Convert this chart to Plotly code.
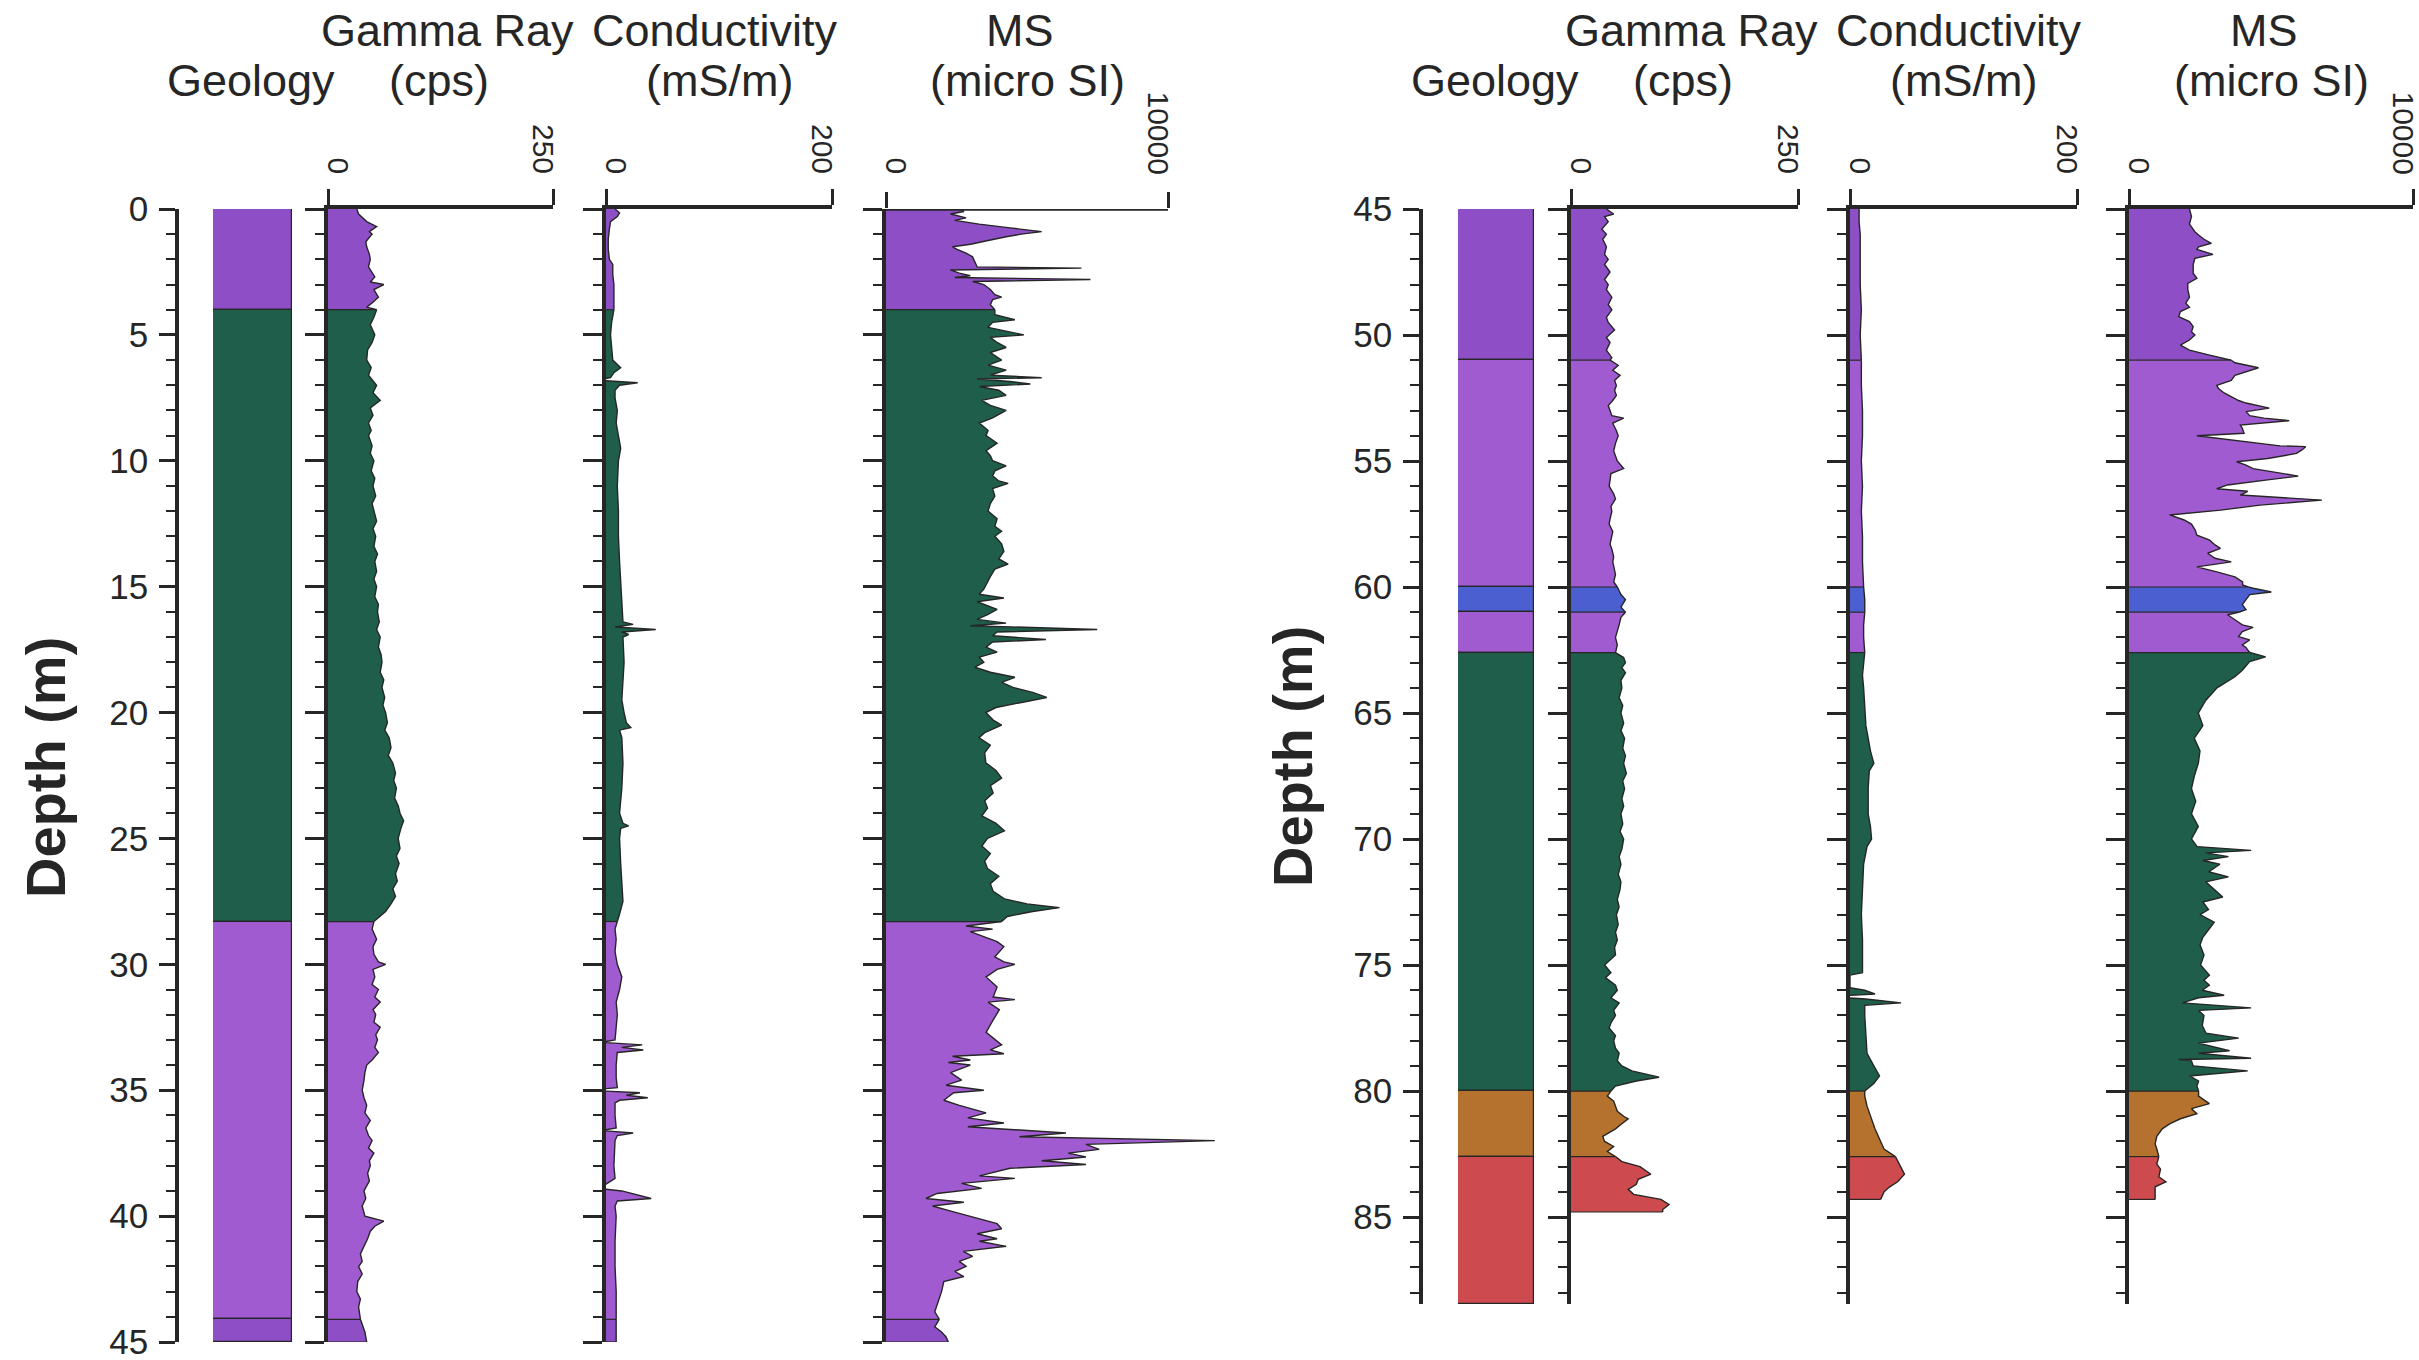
import plotly.graph_objects as go

# ---------------------------------------------------------------------------
# Geology units (top depth, base depth, unit colour key), metres
# ---------------------------------------------------------------------------
geo_left_top = [0.0, 4.0, 28.3, 44.1]
geo_left_base = [4.0, 28.3, 44.1, 45.0]
geo_left_unit = ["violet", "green", "lilac", "violet"]

geo_right_top = [45.0, 51.0, 60.0, 61.0, 62.6, 80.0, 82.6]
geo_right_base = [51.0, 60.0, 61.0, 62.6, 80.0, 82.6, 88.45]
geo_right_unit = ["violet", "lilac", "blue", "lilac", "green", "brown", "red"]

# Full-scale ends of each log track
gr_scale = [0, 250]
cond_scale = [0, 200]
ms_scale = [0, 10000]

# ---------------------------------------------------------------------------
# Upper hole, 0 - 45 m
# ---------------------------------------------------------------------------
gr_left_depth = [
    0.0, 0.2, 0.5, 0.7, 0.9, 1.0, 1.3, 1.5, 1.8, 2.0,
    2.3, 2.5, 2.7, 2.9, 3.0, 3.2, 3.5, 3.7, 3.9, 4.0,
    4.3, 4.6, 5.0, 5.3, 5.6, 6.0, 6.3, 6.6, 7.0, 7.3,
    7.6, 7.9, 8.2, 8.5, 8.8, 9.0, 9.4, 9.7, 10.0, 10.4,
    10.7, 11.0, 11.4, 11.7, 12.0, 12.4, 12.7, 13.0, 13.4, 13.7,
    14.0, 14.4, 14.7, 15.0, 15.4, 15.7, 16.0, 16.4, 16.7, 17.0,
    17.4, 17.7, 18.0, 18.4, 18.7, 19.0, 19.4, 19.7, 20.0, 20.4,
    20.7, 21.0, 21.4, 21.7, 22.0, 22.4, 22.7, 23.0, 23.4, 23.7,
    24.0, 24.3, 24.6, 25.0, 25.4, 25.7, 26.0, 26.4, 26.7, 27.0,
    27.3, 27.6, 27.9, 28.1, 28.3, 28.6, 29.0, 29.3, 29.6, 29.9,
    30.0, 30.2, 30.5, 30.8, 31.0, 31.3, 31.5, 31.8, 32.0, 32.3,
    32.5, 32.8, 33.0, 33.3, 33.5, 33.8, 34.0, 34.3, 34.6, 35.0,
    35.3, 35.6, 35.9, 36.2, 36.5, 36.8, 37.0, 37.3, 37.5, 37.8,
    38.0, 38.3, 38.6, 39.0, 39.3, 39.6, 40.0, 40.2, 40.4, 40.6,
    40.9, 41.2, 41.5, 41.8, 42.0, 42.3, 42.6, 43.0, 43.3, 43.6,
    44.1, 44.3, 44.6, 45.0]
gr_left_cps = [
    32, 34, 43, 54, 46, 49, 42, 43, 46, 47,
    45, 49, 52, 47, 62, 51, 56, 50, 43, 54,
    51, 47, 52, 49, 44, 43, 48, 45, 54, 50,
    58, 47, 50, 45, 48, 45, 49, 47, 51, 48,
    52, 50, 53, 49, 51, 54, 50, 53, 51, 55,
    52, 54, 51, 54, 52, 56, 55, 57, 54, 58,
    56, 59, 60, 58, 62, 60, 63, 61, 64, 66,
    63, 68, 70, 67, 72, 75, 73, 76, 74, 78,
    80, 84, 81, 78, 80, 76, 79, 75, 77, 72,
    75, 70, 64, 58, 51, 49, 54, 50, 51, 56,
    64, 50, 52, 49, 56, 52, 58, 50, 53, 51,
    58, 53, 55, 52, 56, 49, 43, 41, 40, 38,
    40, 43, 41, 47, 42, 45, 49, 45, 51, 46,
    47, 44, 46, 40, 42, 38, 41, 62, 52, 47,
    44, 40, 36, 38, 34, 38, 33, 32, 36, 34,
    36, 38, 41, 43]

cond_left_depth = [
    0.0, 0.15, 0.3, 0.5, 0.8, 1.2, 1.6, 2.0, 2.2, 2.6,
    3.0, 3.5, 4.0, 4.5, 5.0, 5.5, 6.0, 6.3, 6.5, 6.7,
    6.8, 6.9, 7.0, 7.2, 7.5, 8.0, 8.5, 9.0, 9.5, 10.0,
    11.0, 12.0, 13.0, 14.0, 15.0, 16.0, 16.4, 16.5, 16.6, 16.7,
    16.8, 16.9, 17.0, 18.0, 19.0, 19.5, 20.0, 20.4, 20.6, 20.7,
    21.0, 22.0, 23.0, 24.0, 24.4, 24.5, 24.6, 25.0, 26.0, 27.0,
    27.5, 28.0, 28.3, 28.6, 29.0, 29.5, 30.0, 30.5, 31.0, 31.5,
    32.0, 32.5, 33.0, 33.1, 33.2, 33.3, 33.4, 33.5, 34.0, 34.5,
    34.9, 35.0, 35.1, 35.2, 35.3, 35.4, 35.5, 36.0, 36.5, 36.6,
    36.7, 36.8, 37.0, 38.0, 38.5, 38.9, 39.0, 39.3, 39.4, 39.6,
    40.0, 41.0, 42.0, 43.0, 44.1, 45.0]
cond_left_mspm = [
    8, 12, 10, 4, 3, 2, 2, 3, 6, 6,
    7, 7, 7, 5, 4, 5, 6, 13, 7, 4,
    -8, 28, 12, 8, 8, 10, 9, 11, 13, 11,
    10, 11, 11, 12, 13, 14, 15, 24, 8, 44,
    14, 20, 15, 16, 15, 14, 16, 18, 22, 12,
    14, 15, 14, 12, 15, 20, 13, 12, 13, 14,
    15, 12, 10, 8, 9, 8, 10, 14, 12, 9,
    10, 9, 8, -4, 32, 14, 33, 10, 9, 9,
    10, -16, 30, 18, 37, 12, 8, 8, 9, -4,
    24, 10, 8, 7, 8, -6, 14, 40, 10, 8,
    9, 8, 8, 9, 9, 9]

ms_left_depth = [
    0.0, 0.1, 0.2, 0.35, 0.45, 0.6, 0.75, 0.9, 1.0, 1.1,
    1.25, 1.4, 1.5, 1.6, 1.75, 1.9, 2.1, 2.3, 2.35, 2.42,
    2.55, 2.65, 2.72, 2.8, 2.88, 3.0, 3.2, 3.4, 3.5, 3.6,
    3.8, 4.0, 4.2, 4.4, 4.5, 4.7, 5.0, 5.1, 5.3, 5.5,
    5.7, 6.0, 6.2, 6.4, 6.6, 6.7, 6.75, 6.85, 6.95, 7.05,
    7.2, 7.4, 7.6, 7.8, 8.0, 8.3, 8.5, 8.8, 9.0, 9.3,
    9.6, 9.8, 10.0, 10.2, 10.4, 10.6, 10.8, 10.9, 11.1, 11.4,
    11.7, 12.0, 12.3, 12.6, 12.8, 13.0, 13.3, 13.6, 13.9, 14.1,
    14.3, 14.6, 14.9, 15.1, 15.3, 15.45, 15.6, 15.9, 16.1, 16.3,
    16.45, 16.55, 16.7, 16.8, 16.95, 17.1, 17.2, 17.4, 17.6, 17.8,
    18.0, 18.2, 18.4, 18.6, 18.8, 19.0, 19.2, 19.4, 19.6, 19.8,
    20.0, 20.3, 20.5, 20.8, 21.0, 21.3, 21.6, 22.0, 22.3, 22.6,
    22.9, 23.2, 23.5, 23.8, 24.1, 24.4, 24.7, 25.0, 25.3, 25.6,
    25.9, 26.2, 26.5, 26.8, 27.1, 27.4, 27.6, 27.75, 27.9, 28.1,
    28.3, 28.48, 28.6, 28.7, 29.1, 29.3, 29.7, 29.9, 30.0, 30.2,
    30.5, 30.9, 31.3, 31.4, 31.5, 31.8, 32.25, 32.7, 33.2, 33.4,
    33.55, 33.65, 33.8, 33.9, 34.0, 34.3, 34.6, 34.8, 35.0, 35.1,
    35.4, 35.6, 35.9, 36.1, 36.3, 36.45, 36.7, 36.85, 37.0, 37.15,
    37.35, 37.5, 37.65, 37.8, 37.95, 38.1, 38.4, 38.5, 38.7, 38.9,
    39.1, 39.3, 39.45, 39.6, 39.8, 40.0, 40.3, 40.5, 40.7, 40.9,
    41.0, 41.2, 41.4, 41.6, 41.8, 42.0, 42.2, 42.4, 42.6, 43.0,
    43.3, 43.6, 43.8, 44.1, 44.4, 44.6, 44.8, 45.0]
ms_left_si = [
    2680, 2760, 2290, 2840, 2440, 3300, 4400, 5520, 4800, 4260,
    3620, 3000, 2360, 2520, 2840, 3070, 3150, 3230, 6930, 2280,
    2600, 2990, 2440, 7250, 3070, 3470, 3700, 3860, 4100, 3780,
    3700, 3860, 3860, 4570, 3780, 3620, 4890, 3700, 3940, 4260,
    3700, 4100, 3620, 4260, 3700, 5520, 3230, 4400, 5120, 3310,
    4000, 4260, 3390, 3700, 4260, 3780, 3310, 3620, 3550, 3940,
    3550, 3700, 3780, 4260, 3860, 3780, 4000, 4330, 3780, 3860,
    3700, 3620, 3940, 3860, 4100, 3860, 4100, 4180, 4000, 4330,
    3860, 3700, 3550, 3470, 3300, 4180, 3230, 3940, 3620, 3230,
    4260, 2990, 7490, 3940, 3780, 5670, 3780, 3550, 3940, 3310,
    3470, 3150, 3700, 4570, 4100, 4500, 5200, 5700, 4800, 3900,
    3540, 3800, 4100, 3500, 3300, 3700, 3500, 3540, 3900, 4100,
    3700, 3800, 3500, 3600, 3400, 3900, 4200, 3600, 3400, 3700,
    3500, 3600, 4000, 3700, 3800, 4200, 5000, 6150, 5200, 4300,
    4100, 2840, 3780, 2990, 3940, 4180, 3860, 4180, 4570, 3940,
    3550, 3940, 3800, 4570, 3620, 4020, 3780, 3550, 4100, 3700,
    4180, 2360, 2990, 2210, 2990, 2290, 2680, 2130, 3470, 2400,
    2050, 2600, 3550, 2900, 4180, 2900, 6380, 4730, 11660, 7090,
    7560, 6460, 7090, 5520, 7090, 4400, 3310, 4570, 2680, 3390,
    1810, 1420, 2760, 1650, 2300, 2990, 3940, 4100, 3230, 3940,
    3310, 4260, 2740, 3070, 2600, 2840, 2440, 2760, 2050, 1970,
    1890, 1810, 1730, 1890, 1730, 1970, 2130, 2210]

# ---------------------------------------------------------------------------
# Lower hole, 45 - 88 m
# ---------------------------------------------------------------------------
gr_right_depth = [
    45.0, 45.2, 45.3, 45.5, 45.8, 46.0, 46.2, 46.5, 46.8, 47.0,
    47.2, 47.5, 47.8, 48.0, 48.2, 48.5, 48.8, 49.0, 49.3, 49.5,
    49.8, 50.1, 50.3, 50.6, 50.9, 51.0, 51.2, 51.4, 51.6, 51.8,
    52.0, 52.2, 52.4, 52.6, 52.8, 53.0, 53.2, 53.3, 53.5, 53.8,
    54.0, 54.3, 54.6, 55.0, 55.3, 55.5, 56.0, 56.3, 56.5, 56.8,
    57.0, 57.3, 57.5, 57.8, 58.0, 58.3, 58.5, 58.8, 59.0, 59.3,
    59.5, 59.8, 60.0, 60.3, 60.5, 60.8, 61.0, 61.2, 61.5, 61.8,
    62.0, 62.3, 62.6, 62.8, 63.0, 63.2, 63.4, 63.7, 64.0, 64.4,
    64.7, 65.0, 65.4, 65.7, 66.0, 66.4, 66.7, 67.0, 67.4, 67.7,
    68.0, 68.4, 68.7, 69.0, 69.4, 69.7, 70.0, 70.4, 70.7, 71.0,
    71.4, 71.7, 72.0, 72.4, 72.7, 73.0, 73.4, 73.7, 74.0, 74.3,
    74.6, 75.0, 75.3, 75.5, 75.8, 76.0, 76.3, 76.5, 76.8, 77.0,
    77.3, 77.5, 77.8, 78.0, 78.3, 78.5, 78.8, 79.0, 79.2, 79.45,
    79.6, 79.8, 80.0, 80.2, 80.4, 80.6, 80.8, 81.0, 81.1, 81.3,
    81.5, 81.8, 82.0, 82.2, 82.4, 82.6, 82.8, 83.0, 83.2, 83.3,
    83.5, 83.7, 83.9, 84.1, 84.3, 84.5, 84.7, 84.8]
gr_right_cps = [
    39, 47, 37, 41, 34, 39, 35, 39, 37, 41,
    37, 43, 37, 41, 39, 45, 41, 45, 39, 41,
    48, 39, 43, 39, 45, 43, 52, 46, 54, 48,
    50, 48, 50, 46, 41, 43, 45, 58, 46, 50,
    52, 49, 47, 51, 58, 44, 42, 47, 49, 44,
    45, 43, 42, 46, 45, 43, 45, 47, 46, 48,
    49, 47, 51, 55, 60, 55, 60, 55, 53, 51,
    49, 51, 49, 58, 60, 56, 60, 55, 56, 53,
    57, 55, 58, 55, 59, 57, 60, 58, 61, 57,
    59, 56, 58, 55, 57, 54, 58, 56, 53, 55,
    52, 55, 54, 51, 53, 50, 52, 49, 51, 48,
    49, 37, 44, 38, 49, 51, 44, 53, 47, 49,
    44, 42, 49, 47, 49, 53, 51, 56, 67, 97,
    72, 49, 44, 40, 47, 49, 51, 58, 63, 56,
    49, 35, 37, 47, 40, 49, 56, 76, 85, 88,
    74, 72, 63, 69, 99, 108, 101, 101]

cond_right_depth = [
    45.0, 45.5, 46.0, 47.0, 48.0, 49.0, 50.0, 51.0, 52.0, 53.0,
    54.0, 55.0, 56.0, 57.0, 58.0, 59.0, 60.0, 60.5, 61.0, 61.5,
    62.0, 62.6, 63.0, 63.5, 64.0, 65.0, 65.5, 66.0, 66.5, 67.0,
    67.3, 68.0, 69.0, 69.5, 70.0, 70.3, 71.0, 72.0, 73.0, 74.0,
    75.0, 75.3, 75.4, 75.9, 76.0, 76.15, 76.25, 76.35, 76.5, 76.6,
    77.0, 78.0, 78.5, 79.0, 79.4, 79.7, 80.0, 80.2, 80.6, 81.0,
    81.5, 82.0, 82.3, 82.6, 83.0, 83.3, 83.6, 83.8, 84.0, 84.3]
cond_right_mspm = [
    8, 8, 9, 9, 9, 10, 9, 10, 10, 11,
    11, 10, 11, 10, 11, 11, 12, 13, 13, 12,
    12, 13, 12, 11, 12, 13, 14, 16, 18, 21,
    17, 16, 16, 18, 19, 15, 12, 11, 10, 11,
    11, 11, 0, 0, 13, 22, -18, 14, 45, 13,
    13, 14, 15, 21, 26, 21, 13, 13, 15, 18,
    22, 27, 30, 40, 45, 48, 42, 35, 30, 27]

ms_right_depth = [
    45.0, 45.3, 45.6, 45.9, 46.03, 46.2, 46.36, 46.5, 46.6, 46.8,
    46.96, 47.2, 47.55, 47.75, 47.95, 48.2, 48.5, 48.74, 48.9, 49.07,
    49.27, 49.47, 49.67, 49.87, 50.0, 50.2, 50.4, 50.6, 50.8, 51.0,
    51.1, 51.3, 51.5, 51.6, 51.8, 52.0, 52.12, 52.3, 52.6, 52.7,
    52.9, 53.04, 53.2, 53.3, 53.4, 53.57, 53.7, 53.9, 54.0, 54.17,
    54.4, 54.43, 54.56, 54.7, 54.9, 55.03, 55.16, 55.3, 55.5, 55.6,
    55.75, 55.95, 56.1, 56.2, 56.35, 56.55, 56.75, 56.95, 57.14, 57.34,
    57.5, 57.74, 57.94, 58.14, 58.33, 58.47, 58.66, 58.86, 59.0, 59.2,
    59.4, 59.6, 59.8, 59.92, 60.0, 60.05, 60.2, 60.3, 60.5, 60.7,
    60.9, 61.0, 61.1, 61.3, 61.5, 61.6, 61.77, 61.97, 62.1, 62.3,
    62.4, 62.5, 62.6, 62.77, 62.96, 63.3, 63.56, 64.0, 64.5, 65.0,
    65.5, 66.0, 66.5, 67.0, 67.5, 68.0, 68.5, 69.0, 69.5, 70.0,
    70.3, 70.45, 70.55, 70.7, 70.85, 71.0, 71.3, 71.5, 71.7, 72.0,
    72.3, 72.5, 72.8, 73.0, 73.3, 73.6, 73.9, 74.2, 74.6, 75.0,
    75.4, 75.6, 75.8, 76.0, 76.2, 76.3, 76.5, 76.7, 76.8, 77.0,
    77.4, 77.7, 77.9, 78.1, 78.4, 78.5, 78.7, 78.75, 78.8, 79.0,
    79.2, 79.4, 79.6, 79.8, 80.0, 80.2, 80.5, 80.7, 80.9, 81.1,
    81.3, 81.5, 81.8, 82.1, 82.3, 82.6, 82.9, 83.1, 83.4, 83.6,
    83.8, 84.1, 84.3]
ms_right_si = [
    2130, 2200, 2130, 2320, 2450, 2640, 2900, 2450, 2390, 2960,
    2320, 2260, 2260, 2390, 2070, 2070, 2130, 2000, 2130, 1810,
    1750, 2130, 2260, 2200, 2320, 2130, 1810, 2130, 2840, 3600,
    3730, 4560, 4000, 3730, 3600, 3090, 3150, 3350, 3860, 4120,
    4940, 4120, 4250, 4750, 5640, 3920, 3990, 4050, 2390, 3730,
    5320, 6220, 6090, 5900, 4880, 3790, 4120, 4370, 5520, 5960,
    4880, 3470, 3090, 4180, 3920, 6790, 4620, 3220, 1430, 1940,
    2200, 2330, 2390, 2840, 3030, 3220, 2770, 3030, 3600, 2390,
    3090, 3730, 4000, 4000, 4200, 4370, 5010, 4250, 4120, 3990,
    4120, 3860, 3470, 3730, 3990, 4370, 3990, 3860, 4250, 3990,
    4120, 4180, 4250, 4810, 4250, 3990, 3730, 3100, 2700, 2440,
    2600, 2300, 2500, 2440, 2300, 2200, 2350, 2200, 2440, 2200,
    2400, 4300, 2700, 3500, 2600, 3200, 2800, 3500, 2700, 3000,
    3300, 2600, 2800, 2500, 3000, 2800, 2600, 2500, 2640, 2520,
    2830, 2640, 2830, 2580, 3350, 2450, 1880, 4300, 2450, 2640,
    2580, 2710, 3860, 2450, 3540, 2450, 4300, 1750, 2200, 2260,
    4180, 2130, 2450, 2390, 2450, 2450, 2830, 2200, 2390, 1810,
    1430, 1170, 980, 920, 980, 1050, 980, 1110, 1050, 1300,
    920, 920, 920]

# ---------------------------------------------------------------------------
# Styling and page geometry (pixels on a 2419 x 1360 page)
# ---------------------------------------------------------------------------
W, H = 2419, 1360
INK = "#262626"
FONT = "Liberation Sans, Arial, Helvetica, sans-serif"
NARROW = "Liberation Sans Narrow, Arial Narrow, Liberation Sans, Arial, sans-serif"

UNIT_COLOURS = {
    "violet": "#8d4ec6",
    "lilac": "#a15bd0",
    "blue": "#4c5fd0",
    "green": "#1f5e4b",
    "brown": "#b4722e",
    "red": "#cd4b4f",
}

PANELS = [
    dict(first=1, depth_axis=177, top=209, bottom=1342, depth=(0.0, 45.0),
         geology=(213, 292), tracks=[(328, 553), (606, 832), (886, 1168)],
         units=(geo_left_top, geo_left_base, geo_left_unit),
         logs=[(gr_left_depth, gr_left_cps, gr_scale),
               (cond_left_depth, cond_left_mspm, cond_scale),
               (ms_left_depth, ms_left_si, ms_scale)],
         depth_title=(45, 768)),
    dict(first=5, depth_axis=1421, top=209, bottom=1304, depth=(45.0, 88.45),
         geology=(1458, 1534), tracks=[(1571, 1798), (1850, 2077), (2129, 2413)],
         units=(geo_right_top, geo_right_base, geo_right_unit),
         logs=[(gr_right_depth, gr_right_cps, gr_scale),
               (cond_right_depth, cond_right_mspm, cond_scale),
               (ms_right_depth, ms_right_si, ms_scale)],
         depth_title=(1292, 757)),
]

HEADINGS = [
    # (text, centre x, centre y)
    ("Geology", 251, 80),
    ("Gamma Ray", 447, 30), ("(cps)", 439, 80),
    ("Conductivity", 715, 30), ("(mS/m)", 719, 80),
    ("MS", 1020, 30), ("(micro SI)", 1027, 80),
]
PANEL_SHIFT = 1244
SCALE_LABEL_BASE = 176   # lower end of the rotated scale numbers


def fx(px):
    return px / W


def fy(py):
    return 1 - py / H


def axis_key(kind, idx):
    return f"{kind}axis" if idx == 1 else f"{kind}axis{idx}"


fig = go.Figure()
layout = dict(
    width=W, height=H, autosize=False,
    margin=dict(l=0, r=0, t=0, b=0, pad=0, autoexpand=False),
    paper_bgcolor="white", plot_bgcolor="rgba(0,0,0,0)",
    showlegend=False, hovermode=False, bargap=0,
    font=dict(family=FONT, color=INK),
)
shapes = []
annotations = []


def depth_ticks(common):
    common.update(
        tick0=0, dtick=5, ticks="outside", tickcolor=INK, tickwidth=3,
        automargin=False,
        minor=dict(ticks="outside", tick0=0, dtick=1, ticklen=9,
                   tickwidth=2, tickcolor=INK, showgrid=False),
    )
    return common


for panel in PANELS:
    d0, d1 = panel["depth"]
    ydom = [fy(panel["bottom"]), fy(panel["top"])]
    gi = panel["first"]
    tops, bases, units = panel["units"]

    # --- geology column -------------------------------------------------
    fig.add_trace(go.Bar(
        x=[0] * len(tops), y=[b - t for t, b in zip(tops, bases)], base=tops,
        width=1.0,
        marker=dict(color=[UNIT_COLOURS[u] for u in units],
                    line=dict(color=INK, width=1.2)),
        xaxis=f"x{gi}", yaxis=f"y{gi}", hoverinfo="skip",
    ))
    gx0, gx1 = panel["geology"]
    layout[axis_key("x", gi)] = dict(
        domain=[fx(gx0), fx(gx1)], range=[-0.5, 0.5], visible=False,
        anchor=f"y{gi}", fixedrange=True, automargin=False)
    layout[axis_key("y", gi)] = depth_ticks(dict(
        domain=ydom, range=[d1, d0], anchor="free", position=fx(panel["depth_axis"]),
        showline=True, linecolor=INK, linewidth=3.5, ticklen=16,
        showgrid=False, zeroline=False, showticklabels=True,
        ticklabeloverflow="allow",
        tickfont=dict(size=35, color=INK, family=NARROW), ticklabelstandoff=4,
    ))

    # --- log tracks ------------------------------------------------------
    for k, ((depth, value, scale), (tx0, tx1)) in enumerate(
            zip(panel["logs"], panel["tracks"])):
        idx = gi + 1 + k
        assert len(depth) == len(value)
        full = scale[1]
        over = max(value) > full
        rng_max = full * 1.2 if over else full
        dom_end = tx0 + (tx1 - tx0) * rng_max / full

        for t, b, u in zip(tops, bases, units):
            sel = [i for i, d in enumerate(depth) if t <= d <= b]
            if len(sel) < 2:
                continue
            fig.add_trace(go.Scatter(
                x=[value[i] for i in sel], y=[depth[i] for i in sel],
                mode="lines", fill="tozerox", fillcolor=UNIT_COLOURS[u],
                line=dict(color=INK, width=1.4),
                xaxis=f"x{idx}", yaxis=f"y{idx}", hoverinfo="skip",
            ))

        # thin rules at unit contacts and at the base of the log
        rx, ry = [], []
        for t in tops[1:]:
            if depth[0] < t < depth[-1]:
                v = value[depth.index(t)]
                rx += [0, v, None]
                ry += [t, t, None]
        rx += [0, value[-1], None]
        ry += [depth[-1], depth[-1], None]
        fig.add_trace(go.Scatter(
            x=rx, y=ry, mode="lines", line=dict(color=INK, width=1.2),
            xaxis=f"x{idx}", yaxis=f"y{idx}", hoverinfo="skip",
        ))

        layout[axis_key("x", idx)] = dict(
            domain=[fx(tx0), fx(dom_end)], range=[0, rng_max], side="top",
            anchor=f"y{idx}", tickmode="array", tickvals=scale,
            showticklabels=False,
            ticks="outside", ticklen=16, tickwidth=3, tickcolor=INK,
            showline=not over, linecolor=INK, linewidth=3.5,
            showgrid=False, zeroline=False, fixedrange=True, automargin=False,
        )
        layout[axis_key("y", idx)] = depth_ticks(dict(
            domain=ydom, range=[d1, d0], anchor=f"x{idx}",
            showline=True, linecolor=INK, linewidth=3.5, ticklen=19,
            showgrid=False, zeroline=False, showticklabels=False,
        ))
        if over:
            shapes.append(dict(
                type="line", xref=f"x{idx}", yref=f"y{idx}",
                x0=0, x1=full, y0=d0, y1=d0,
                line=dict(color=INK, width=3.5), layer="above"))

        # rotated scale numbers, nudged inward from the end ticks
        for s, nudge in zip(scale, (10, -10)):
            annotations.append(dict(
                text=str(s), x=s, xref=f"x{idx}", y=fy(SCALE_LABEL_BASE), yref="paper",
                xanchor="center", yanchor="bottom", xshift=nudge, textangle=90,
                showarrow=False, font=dict(size=30, color=INK, family=FONT)))

    # --- headings ---------------------------------------------------------
    shift = PANEL_SHIFT if gi > 1 else 0
    for text, cx, cy in HEADINGS:
        annotations.append(dict(
            text=text, x=fx(cx + shift), y=fy(cy), xref="paper", yref="paper",
            xanchor="center", yanchor="middle", showarrow=False,
            font=dict(size=45, color=INK, family=NARROW)))
    tx, ty = panel["depth_title"]
    annotations.append(dict(
        text="<b>Depth (m)</b>", x=fx(tx), y=fy(ty), xref="paper", yref="paper",
        xanchor="center", yanchor="middle", showarrow=False, textangle=-90,
        font=dict(size=56, color=INK, family=FONT)))

layout["shapes"] = shapes
layout["annotations"] = annotations
fig.update_layout(**layout)
fig.write_html("out.html")
